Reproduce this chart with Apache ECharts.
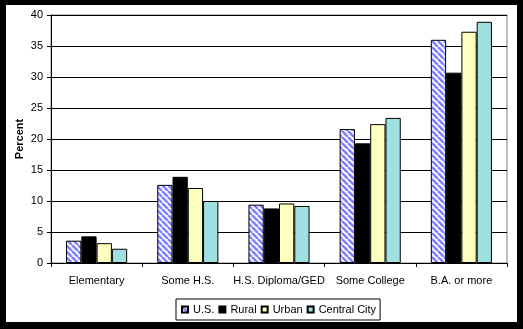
<!DOCTYPE html>
<html><head><meta charset="utf-8">
<script src="https://cdn.jsdelivr.net/npm/echarts@6/dist/echarts.min.js"></script>
<style>
html,body{margin:0;padding:0;background:#000;width:523px;height:329px;overflow:hidden;}
#c{position:absolute;left:6px;top:5px;width:511px;height:317px;background:#fff;}
</style></head>
<body><div id="c"></div>
<script>
const categories = ['Elementary','Some H.S.','H.S. Diploma/GED','Some College','B.A. or more'];
const usValues = [3.6, 12.6, 9.4, 21.6, 36.0];
const ruralValues = [4.3, 13.9, 8.8, 19.3, 30.7];
const urbanValues = [3.2, 12.1, 9.6, 22.4, 37.3];
const centralValues = [2.3, 10.0, 9.2, 23.4, 38.9];
const yTicks = [0,5,10,15,20,25,30,35,40];

function stripe(){
  const s = 6;
  const cv = document.createElement('canvas');
  cv.width = s; cv.height = s;
  const g = cv.getContext('2d');
  g.fillStyle = '#fff'; g.fillRect(0,0,s,s);
  g.strokeStyle = '#8080ff'; g.lineWidth = 2.6;
  for (let k=-1;k<=1;k++){
    g.beginPath(); g.moveTo(k*s, 0); g.lineTo(k*s+s, s); g.stroke();
  }
  return {image: cv, repeat: 'repeat'};
}

const font = 'Arial, "Liberation Sans", sans-serif';
const chart = echarts.init(document.getElementById('c'), null, {renderer:'canvas'});
const mk = (name, data, color) => ({
  name, type:'bar', data, barGap:'0%', barCategoryGap:'33%',
  itemStyle:{color, borderColor:'#000', borderWidth:1},
  animation:false
});
chart.setOption({
  animation:false,
  textStyle:{fontFamily:font},
  grid:{left:45, top:10, right:10, height:248, show:true, borderColor:'#808080', borderWidth:1,
    backgroundColor:'transparent', containLabel:false, outerBoundsMode:'none'},
  xAxis:{type:'category', data:categories,
    axisLine:{lineStyle:{color:'#000', width:1}},
    axisTick:{show:true, length:4, lineStyle:{color:'#000'}},
    axisLabel:{color:'#000', fontSize:11, fontFamily:font, margin:12, interval:0}},
  yAxis:{type:'value', min:yTicks[0], max:yTicks[yTicks.length-1], interval:5,
    name:'Percent', nameLocation:'middle', nameGap:26, nameMoveOverlap:false,
    nameTextStyle:{fontWeight:'bold', fontSize:11, color:'#000', fontFamily:font},
    axisLine:{show:true, lineStyle:{color:'#000'}},
    axisTick:{show:true, length:4, lineStyle:{color:'#000'}},
    axisLabel:{color:'#000', fontSize:11, fontFamily:font, margin:8},
    splitLine:{lineStyle:{color:'#000', width:1}}},
  legend:{left:170, top:294, orient:'horizontal', itemWidth:6, itemHeight:6, itemGap:4,
    padding:[5,4,5,5], borderColor:'#000', borderWidth:1,
    textStyle:{fontSize:11, color:'#000', fontFamily:font},
    icon:'rect',
    data:['U.S.','Rural','Urban','Central City']},
  series:[
    mk('U.S.', usValues, stripe()),
    mk('Rural', ruralValues, '#000'),
    mk('Urban', urbanValues, '#ffffc0'),
    mk('Central City', centralValues, '#a0e0e0')
  ]
});
</script></body></html>
